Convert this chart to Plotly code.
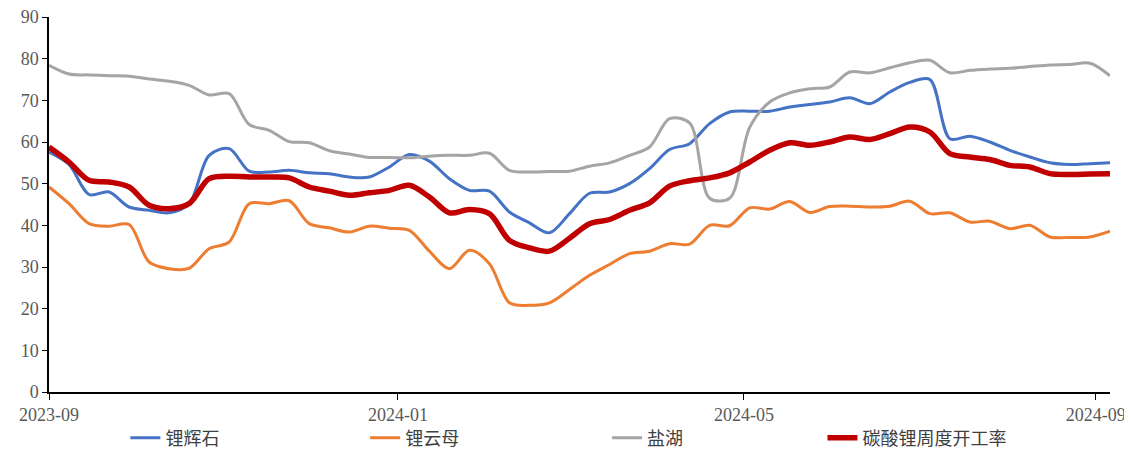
import plotly.graph_objects as go
import pandas as pd

# weekly dates (Fridays) 2023-09-01 .. 2024-09-06
dates = pd.date_range("2023-09-01", periods=54, freq="7D")

spodumene = [57.6, 54.6, 47.4, 48.0, 44.4, 43.6, 43.0, 45.2, 56.8, 58.4,
             53.0, 52.8, 53.2, 52.6, 52.4, 51.6, 51.6, 54.0, 57.0, 55.4,
             51.2, 48.4, 48.2, 43.2, 40.6, 38.2, 42.8, 47.7, 48.0, 50.0,
             53.6, 58.2, 59.6, 64.4, 67.2, 67.4, 67.4, 68.4, 69.0, 69.6,
             70.6, 69.2, 72.0, 74.3, 75.0, 60.8, 61.4, 60.0, 58.0, 56.4,
             55.0, 54.6, 54.8, 55.0]
lepidolite = [49.2, 45.2, 40.4, 39.8, 40.2, 31.2, 29.6, 29.7, 34.4, 36.0,
              45.2, 45.2, 45.9, 40.4, 39.4, 38.4, 39.8, 39.3, 38.8, 33.8,
              29.6, 34.0, 30.8, 21.4, 20.8, 21.4, 24.6, 28.0, 30.6, 33.2,
              33.8, 35.6, 35.5, 40.0, 39.9, 44.2, 43.9, 45.7, 43.1, 44.5,
              44.6, 44.4, 44.6, 45.8, 42.8, 43.0, 40.8, 41.0, 39.2, 40.0,
              37.2, 37.1, 37.2, 38.6]
salt_lake = [78.4, 76.3, 76.1, 75.9, 75.8, 75.1, 74.6, 73.6, 71.3, 71.6,
             64.2, 62.8, 60.1, 59.8, 57.9, 57.1, 56.3, 56.3, 56.2, 56.6,
             56.8, 56.8, 57.3, 53.2, 52.8, 52.9, 53.0, 54.2, 55.0, 56.8,
             58.8, 65.6, 64.6, 46.5, 46.5, 63.5, 69.6, 71.8, 72.8, 73.2,
             76.8, 76.6, 77.8, 79.0, 79.6, 76.6, 77.2, 77.5, 77.7, 78.1,
             78.5, 78.6, 78.9, 75.9]
li2co3_rate = [58.8, 55.2, 50.8, 50.4, 49.2, 44.8, 44.0, 45.2, 51.2, 51.8,
               51.6, 51.6, 51.4, 49.2, 48.2, 47.2, 47.8, 48.4, 49.6, 46.8,
               43.0, 43.8, 42.8, 36.4, 34.6, 33.8, 36.9, 40.4, 41.4, 43.6,
               45.4, 49.4, 50.7, 51.4, 52.6, 55.2, 58.0, 59.8, 59.2, 60.0,
               61.2, 60.6, 62.0, 63.6, 62.4, 57.2, 56.4, 55.8, 54.4, 54.0,
               52.4, 52.2, 52.3, 52.4]

names = ["锂辉石", "锂云母", "盐湖", "碳酸锂周度开工率"]
tick_dates = ["2023-09-01", "2024-01-01", "2024-05-01", "2024-09-01"]
tick_text = ["2023-09", "2024-01", "2024-05", "2024-09"]

series = [
    (names[0], spodumene, "#4472C4", 3),
    (names[1], lepidolite, "#ED7D31", 3),
    (names[2], salt_lake, "#A5A5A5", 3),
    (names[3], li2co3_rate, "#C00000", 5.5),
]
# one legend per series so each entry sits where the original has it
legend_ids = ["legend", "legend2", "legend3", "legend4"]
legend_x = [0.072, 0.298, 0.526, 0.729]

fig = go.Figure()
for (name, vals, color, w), lid in zip(series, legend_ids):
    fig.add_trace(go.Scatter(x=dates, y=vals, name=name, mode="lines", legend=lid,
                             line=dict(color=color, width=w, shape="spline", smoothing=0.9)))

tick_font = dict(family="Liberation Serif", size=18, color="#595959")
leg_font = dict(family="Noto Sans CJK SC", size=18, color="#404040")

legends = {}
for lid, lx in zip(legend_ids, legend_x):
    legends[lid] = dict(orientation="h", x=lx, y=-0.123, xanchor="left", yanchor="middle",
                        font=leg_font, bgcolor="rgba(0,0,0,0)")

# page body has an 8px margin, so the figure is shifted by 8px
fig.update_layout(
    width=1124, height=441,
    margin=dict(l=41, r=22, t=9, b=57, autoexpand=False),
    plot_bgcolor="white", paper_bgcolor="white",
    showlegend=True,
    xaxis=dict(type="date", range=["2023-09-01", "2024-09-06"],
               tickvals=tick_dates, ticktext=tick_text, tickfont=tick_font,
               ticklabeloverflow="allow",
               showline=True, linecolor="black", linewidth=1.5,
               ticks="outside", ticklen=6, tickcolor="black", showgrid=False, zeroline=False),
    yaxis=dict(range=[0, 90], dtick=10, tickfont=tick_font,
               ticklabeloverflow="allow",
               showline=True, linecolor="black", linewidth=1.5,
               ticks="outside", ticklen=5, tickcolor="black", showgrid=False, zeroline=False),
    **legends,
)

fig.write_html("out.html")
